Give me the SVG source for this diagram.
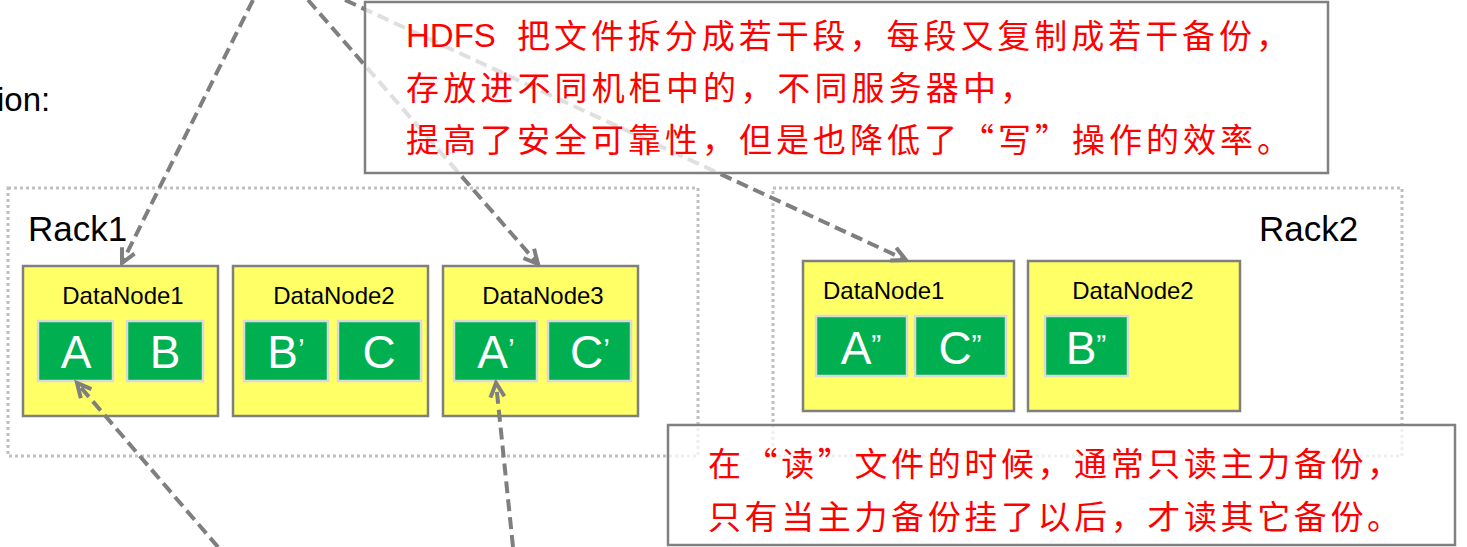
<svg xmlns="http://www.w3.org/2000/svg" width="1467" height="547" viewBox="0 0 1467 547">
<style>
.rack{fill:none;stroke:#c0c0c0;stroke-width:3;stroke-dasharray:3 3}
.dn{fill:#ffff66;stroke:#7f7f7f;stroke-width:2.5}
.blk{fill:#00b050;stroke:#d9d9d9;stroke-width:2.5}
.lbl{font-family:"Liberation Sans",Arial,sans-serif;fill:#000}
.dnl{font-size:24px}
.bl{font-family:"Liberation Sans",Arial,sans-serif;font-size:46px;fill:#fff;text-anchor:middle}
.pr{font-size:30px}
.rk{font-family:"Liberation Sans",Arial,sans-serif;font-size:35px;fill:#000}
.conn{fill:none;stroke:#7f7f7f;stroke-width:4;stroke-dasharray:12 6}
.note{fill:#fff;fill-opacity:0.75;stroke:#808080;stroke-width:2.5}
.cn{font-family:"Noto Sans CJK SC","Noto Sans CJK JP",sans-serif;font-size:33px;fill:#ff0000}
.en{font-family:"Liberation Sans",Arial,sans-serif;font-size:33px;fill:#ff0000}
</style>
<defs>
<marker id="arr" markerUnits="userSpaceOnUse" markerWidth="20" markerHeight="20" refX="15" refY="8" orient="auto" overflow="visible">
<path d="M1,1 L15,8 L1,15" fill="none" stroke="#7f7f7f" stroke-width="4"/>
</marker>
</defs>

<text class="lbl" x="-3" y="111" font-size="33">ion:</text>

<g id="rack1">
<rect class="rack" x="8" y="188" width="690" height="268"/>
<text class="rk" x="28" y="241">Rack1</text>
</g>
<g id="rack2">
<rect class="rack" x="773" y="188" width="629" height="268"/>
<text class="rk" x="1259" y="241">Rack2</text>
</g>

<g id="r1dn1">
<rect class="dn" x="23" y="266" width="195" height="150"/>
<text class="lbl dnl" x="123" y="304" text-anchor="middle">DataNode1</text>
<rect class="blk" x="38" y="321" width="75" height="60"/>
<text class="bl" x="76" y="368">A</text>
<rect class="blk" x="127" y="321" width="76" height="60"/>
<text class="bl" x="165" y="368">B</text>
</g>
<g id="r1dn2">
<rect class="dn" x="233" y="266" width="195" height="150"/>
<text class="lbl dnl" x="334" y="304" text-anchor="middle">DataNode2</text>
<rect class="blk" x="244" y="321" width="84" height="60"/>
<text class="bl" x="286" y="368">B<tspan class="pr" dy="-9">’</tspan></text>
<rect class="blk" x="338" y="321" width="83" height="60"/>
<text class="bl" x="379" y="368">C</text>
</g>
<g id="r1dn3">
<rect class="dn" x="443" y="266" width="195" height="150"/>
<text class="lbl dnl" x="543" y="304" text-anchor="middle">DataNode3</text>
<rect class="blk" x="454" y="321" width="83" height="60"/>
<text class="bl" x="496" y="368">A<tspan class="pr" dy="-9">’</tspan></text>
<rect class="blk" x="548" y="321" width="83" height="60"/>
<text class="bl" x="590" y="368">C<tspan class="pr" dy="-9">’</tspan></text>
</g>

<g id="r2dn1">
<rect class="dn" x="803" y="261" width="211" height="150"/>
<text class="lbl dnl" x="823" y="299">DataNode1</text>
<rect class="blk" x="816" y="316" width="91" height="60"/>
<text class="bl" x="861" y="364">A<tspan class="pr" dy="-9">”</tspan></text>
<rect class="blk" x="915" y="316" width="91" height="60"/>
<text class="bl" x="960" y="364">C<tspan class="pr" dy="-9">”</tspan></text>
</g>
<g id="r2dn2">
<rect class="dn" x="1028" y="261" width="212" height="150"/>
<text class="lbl dnl" x="1133" y="299" text-anchor="middle">DataNode2</text>
<rect class="blk" x="1045" y="316" width="83" height="60"/>
<text class="bl" x="1086" y="364">B<tspan class="pr" dy="-9">”</tspan></text>
</g>

<g id="connectors">
<path class="conn" d="M253,0 L122,263" marker-end="url(#arr)"/>
<path class="conn" d="M308,0 L538,264" marker-end="url(#arr)"/>
<path class="conn" d="M345,0 L906,260" marker-end="url(#arr)"/>
<path class="conn" d="M218,547 L77,383" marker-end="url(#arr)"/>
<path class="conn" d="M513,547 L496,383" marker-end="url(#arr)"/>
</g>

<g id="note-write">
<rect class="note" x="365" y="2" width="963" height="171"/>
<text class="en" x="406" y="47">HDFS</text>
<text class="cn" x="517" y="48" textLength="772" lengthAdjust="spacing">把文件拆分成若干段，每段又复制成若干备份，</text>
<text class="cn" x="406" y="100" textLength="627" lengthAdjust="spacing">存放进不同机柜中的，不同服务器中，</text>
<text class="cn" x="406" y="152" textLength="884" lengthAdjust="spacing">提高了安全可靠性，但是也降低了“写”操作的效率。</text>
</g>

<g id="note-read">
<rect class="note" x="668" y="425" width="787" height="120"/>
<text class="cn" x="708" y="476" textLength="692" lengthAdjust="spacing">在“读”文件的时候，通常只读主力备份，</text>
<text class="cn" x="708" y="529" textLength="692" lengthAdjust="spacing">只有当主力备份挂了以后，才读其它备份。</text>
</g>
</svg>
